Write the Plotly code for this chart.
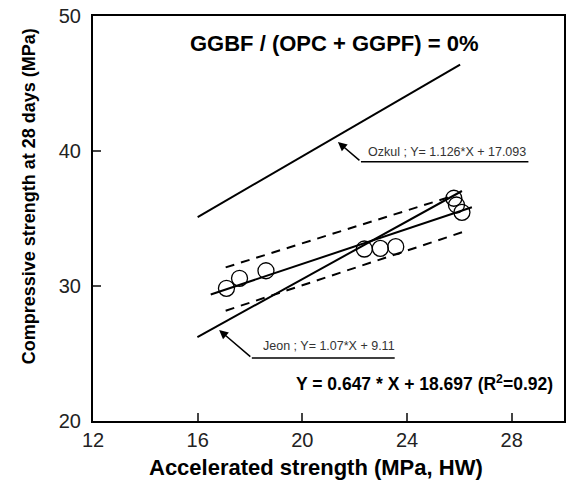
import plotly.graph_objects as go

# ---- data ----
acc_strength = [17.10, 17.60, 18.61, 22.37, 22.98, 23.57, 25.79, 25.89, 26.10]
comp_strength = [29.83, 30.57, 31.13, 32.74, 32.79, 32.91, 36.50, 36.00, 35.46]

fit_slope, fit_intercept = 0.647, 18.697
fit_x = [16.5, 26.48]

ozkul_slope, ozkul_intercept = 1.126, 17.093
ozkul_x = [16.0, 26.03]

jeon_slope, jeon_intercept = 1.07, 9.11
jeon_x = [15.99, 26.1]

upper_band_x = [17.07, 25.66]
upper_band_y = [31.38, 36.61]
lower_band_x = [17.07, 26.17]
lower_band_y = [28.17, 34.02]

x_ticks = [12, 16, 20, 24, 28]
y_ticks = [20, 30, 40, 50]

FONT = "Liberation Sans, Arial, sans-serif"


def line_y(xs, a, b):
    return [a * x + b for x in xs]


fig = go.Figure()

fig.add_trace(go.Scatter(x=ozkul_x, y=line_y(ozkul_x, ozkul_slope, ozkul_intercept),
                         mode="lines", line=dict(color="black", width=2), showlegend=False))
fig.add_trace(go.Scatter(x=jeon_x, y=line_y(jeon_x, jeon_slope, jeon_intercept),
                         mode="lines", line=dict(color="black", width=2), showlegend=False))
fig.add_trace(go.Scatter(x=fit_x, y=line_y(fit_x, fit_slope, fit_intercept),
                         mode="lines", line=dict(color="black", width=2), showlegend=False))
fig.add_trace(go.Scatter(x=upper_band_x, y=upper_band_y, mode="lines",
                         line=dict(color="black", width=2, dash="9px,7px"), showlegend=False))
fig.add_trace(go.Scatter(x=lower_band_x, y=lower_band_y, mode="lines",
                         line=dict(color="black", width=2, dash="9px,7px"), showlegend=False))
fig.add_trace(go.Scatter(x=acc_strength, y=comp_strength, mode="markers",
                         marker=dict(symbol="circle-open", size=16, color="black",
                                     line=dict(width=1.3, color="black")),
                         showlegend=False))

# annotation underlines
fig.add_shape(type="line", x0=22.24, y0=39.21, x1=28.64, y1=39.21,
              line=dict(color="black", width=1.5))
fig.add_shape(type="line", x0=18.07, y0=24.67, x1=23.53, y1=24.67,
              line=dict(color="black", width=1.5))

annotations = [
    # arrows
    dict(x=21.36, y=40.67, ax=22.24, ay=39.21, xref="x", yref="y", axref="x", ayref="y",
         text="", showarrow=True, arrowhead=2, arrowsize=1.2, arrowwidth=1.5, arrowcolor="black"),
    dict(x=16.82, y=26.74, ax=18.07, ay=24.67, xref="x", yref="y", axref="x", ayref="y",
         text="", showarrow=True, arrowhead=2, arrowsize=1.2, arrowwidth=1.5, arrowcolor="black"),
    # labels
    dict(x=22.43, y=39.93, xref="x", yref="y", xanchor="left", yanchor="middle",
         text="Ozkul ; Y= 1.126*X + 17.093", showarrow=False,
         font=dict(family=FONT, size=12.5, color="#333")),
    dict(x=18.41, y=25.56, xref="x", yref="y", xanchor="left", yanchor="middle",
         text="Jeon ; Y= 1.07*X + 9.11", showarrow=False,
         font=dict(family=FONT, size=12.5, color="#333")),
    dict(x=0.513, y=0.933, xref="paper", yref="paper", xanchor="center", yanchor="middle",
         text="<b>GGBF / (OPC + GGPF) = 0%</b>", showarrow=False,
         font=dict(family=FONT, size=22, color="black")),
    dict(x=0.981, y=0.094, xref="paper", yref="paper", xanchor="right", yanchor="middle",
         text="<b>Y = 0.647 * X + 18.697 (R<sup>2</sup>=0.92)</b>", showarrow=False,
         font=dict(family=FONT, size=17.5, color="black")),
    # axis titles
    dict(x=0.4726, y=-0.116, xref="paper", yref="paper", xanchor="center", yanchor="middle",
         text="<b>Accelerated strength (MPa, HW)</b>", showarrow=False,
         font=dict(family=FONT, size=22, color="black")),
    dict(x=-0.137, y=0.556, xref="paper", yref="paper", xanchor="center", yanchor="middle",
         text="<b>Compressive strength at 28 days (MPa)</b>", showarrow=False, textangle=-90,
         font=dict(family=FONT, size=18, color="black")),
]

fig.update_layout(
    width=568, height=483,
    margin=dict(l=93, r=2, t=16, b=62),
    paper_bgcolor="white", plot_bgcolor="white",
    annotations=annotations,
    font=dict(family=FONT, color="black"),
)
fig.update_xaxes(range=[12, 30], tickvals=x_ticks, ticks="inside", ticklen=8, tickwidth=2,
                 showline=True, linewidth=2, linecolor="black", mirror=True,
                 showgrid=False, zeroline=False,
                 tickfont=dict(family=FONT, size=20, color="#222"))
fig.update_yaxes(range=[20, 50], tickvals=y_ticks, ticks="inside", ticklen=8, tickwidth=2,
                 showline=True, linewidth=2, linecolor="black", mirror=True,
                 showgrid=False, zeroline=False, ticklabelstandoff=6,
                 tickfont=dict(family=FONT, size=20, color="#222"))

fig.write_html("out.html")
